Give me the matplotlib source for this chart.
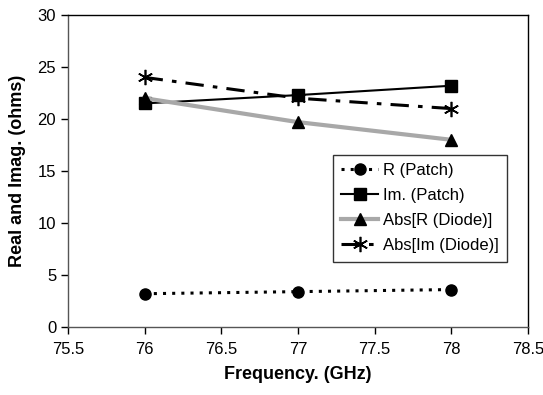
import matplotlib
matplotlib.use("Agg")
import matplotlib.pyplot as plt

plt.rcParams['font.family'] = ['Liberation Sans', 'DejaVu Sans']

freq = [76, 77, 78]
r_patch = [3.2, 3.4, 3.6]
im_patch = [21.5, 22.3, 23.2]
abs_r_diode = [22.0, 19.7, 18.0]
abs_im_diode = [24.0, 22.0, 21.0]
xticks = [75.5, 76, 76.5, 77, 77.5, 78, 78.5]
yticks = [0, 5, 10, 15, 20, 25, 30]

fig = plt.figure(figsize=(5.43, 3.95), dpi=100)
ax = fig.add_axes([68/543, 1 - 327/395, (528-68)/543, (327-15)/395])

ax.plot(freq, r_patch, color='black', lw=2.2, linestyle=(0, (1, 2)),
        marker='o', ms=8, label='R (Patch)', dash_capstyle='butt')
ax.plot(freq, im_patch, color='black', lw=1.5, linestyle='-',
        marker='s', ms=8, label='Im. (Patch)')
ax.plot(freq, abs_r_diode, color='#a8a8a8', lw=3, linestyle='-',
        marker='^', ms=9, mfc='black', mec='black', label='Abs[R (Diode)]')
ax.plot(freq, abs_im_diode, color='black', lw=2.2, linestyle=(0, (6, 3, 1.5, 3)),
        marker=(6, 2, 0), ms=11, mew=1.2, label='Abs[Im (Diode)]')

ax.set_xlim(75.5, 78.5)
ax.set_ylim(0, 30)
ax.set_xticks(xticks)
ax.set_xticklabels([f"{t:g}" for t in xticks])
ax.set_yticks(yticks)
ax.tick_params(direction='out', length=5, width=1, labelsize=12, colors='black')
ax.tick_params(axis='x', pad=6)
for s in ax.spines.values():
    s.set_linewidth(1)
    s.set_color('black')
ax.spines['left'].set_color('#555555')
ax.spines['bottom'].set_color('#555555')

ax.set_xlabel('Frequency. (GHz)', fontsize=13, fontweight='bold', labelpad=6)
ax.set_ylabel('Real and Imag. (ohms)', fontsize=13, fontweight='bold', labelpad=8)

leg = ax.legend(loc='upper left', bbox_to_anchor=((333-68)/460, 1 - (155-15)/312),
                borderaxespad=0,
                frameon=True, fancybox=False, edgecolor='black', fontsize=12,
                handlelength=2.2, borderpad=0.5, labelspacing=0.6, handletextpad=0.3)
leg.get_frame().set_linewidth(1)

fig.savefig('out.png', dpi=100)
